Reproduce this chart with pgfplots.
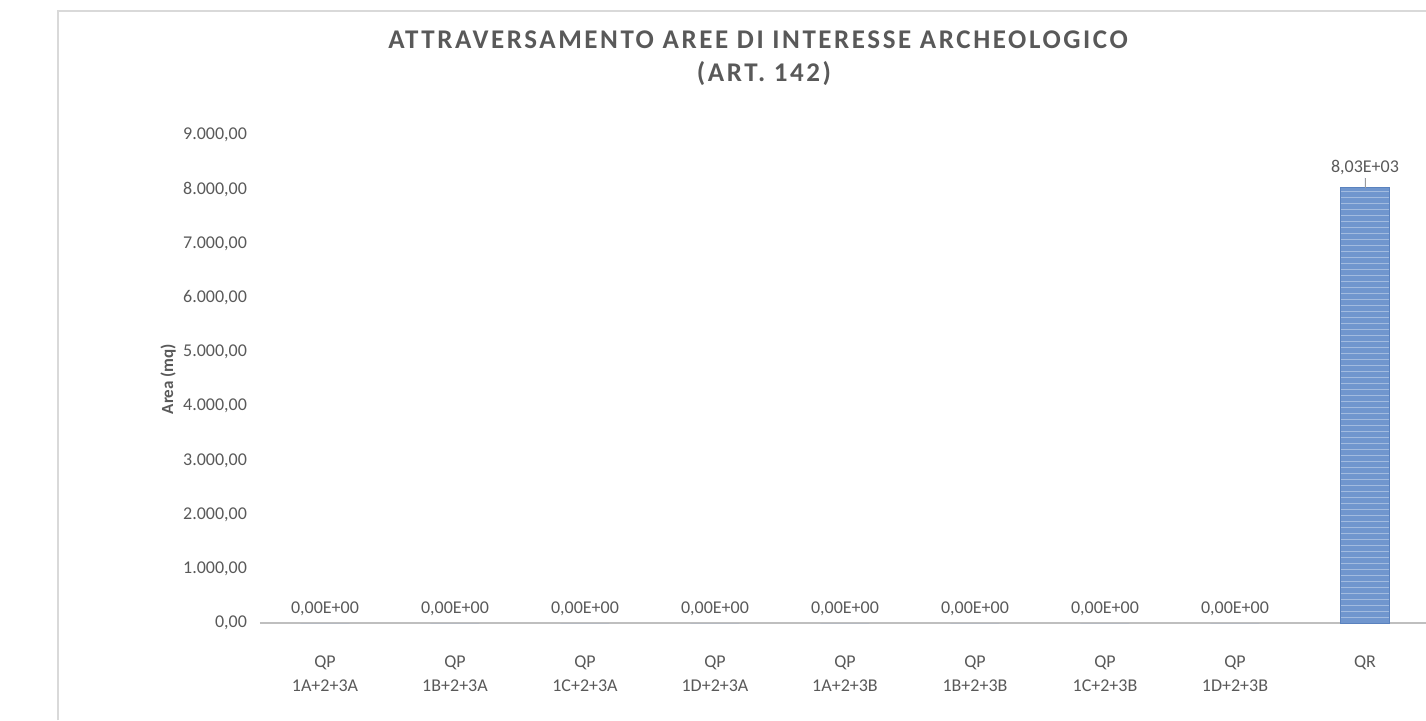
\documentclass[border=0pt]{standalone}
\usepackage{pgfplots}
\pgfplotsset{compat=1.18}
\usepackage{pgfplotstable}
\usepackage{fontspec}
\setmainfont{Carlito}
\newfontfamily\titlefont[LetterSpace=9.5]{Carlito}
\usetikzlibrary{patterns}
\definecolor{txt}{HTML}{595959}
\definecolor{barblue}{HTML}{7096CE}
\definecolor{barline}{HTML}{5A82BE}
\definecolor{axgray}{HTML}{BFBFBF}
\definecolor{framegray}{HTML}{D9D9D9}

\pgfplotstableread{
x y lab
0 0 0,00E+00
1 0 0,00E+00
2 0 0,00E+00
3 0 0,00E+00
4 0 0,00E+00
5 0 0,00E+00
6 0 0,00E+00
7 0 0,00E+00
}\zerotab
\pgfplotstableread{
x y err lab
8 8030 185 8,03E+03
}\qrtab

\begin{document}
\begin{tikzpicture}[x=1pt,y=1pt]
\useasboundingbox (0,0) rectangle (713,360);
\draw[framegray, line width=0.8pt] (29,0) -- (29,354.5) -- (720,354.5);
\node[anchor=base, text=txt, inner sep=0pt] at (379,336)
  {\titlefont\bfseries\fontsize{13.5}{15}\selectfont ATTRAVERSAMENTO AREE DI INTERESSE ARCHEOLOGICO};
\node[anchor=base, text=txt, inner sep=0pt] at (382,319.5)
  {\titlefont\bfseries\fontsize{13.5}{15}\selectfont (ART. 142)};
\begin{axis}[
  scale only axis, width=585pt, height=244pt,
  at={(130pt,48.5pt)}, anchor=south west,
  xmin=-0.5, xmax=8.5, ymin=0, ymax=9000,
  axis x line*=bottom, axis y line*=left,
  x axis line style={axgray, line width=0.75pt, -},
  y axis line style={draw=none},
  xtick={0,...,8}, ytick={0,1000,...,9000},
  xticklabels={{QP\\1A+2+3A},{QP\\1B+2+3A},{QP\\1C+2+3A},{QP\\1D+2+3A},{QP\\1A+2+3B},{QP\\1B+2+3B},{QP\\1C+2+3B},{QP\\1D+2+3B},{QR}},
  major tick length=0pt,
  tick label style={font=\fontsize{9}{12}\selectfont, text=txt},
  xticklabel style={align=center, anchor=north, yshift=-13pt},
  yticklabel style={xshift=-3pt},
  scaled y ticks=false,
  y tick label style={/pgf/number format/.cd, fixed, fixed zerofill, precision=2, use comma, 1000 sep={.}, assume math mode=true},
  ylabel={Area (mq)},
  every axis y label/.style={at={(axis description cs:-0.0786,0.5)}, rotate=90, anchor=center, font=\bfseries\fontsize{8.5}{10}\selectfont, text=txt},
  clip=false,
]
\addplot[ybar, bar width=24.5pt, bar shift=0pt, draw=none, fill=barblue,
  nodes near coords, point meta=explicit symbolic,
  every node near coord/.append style={font=\fontsize{9}{12}\selectfont, text=txt, inner sep=0pt, anchor=base, yshift=4.75pt}]
  table[x=x, y=y, meta=lab] {\zerotab};
\addplot[ybar, bar width=24.5pt, bar shift=0pt, draw=barline, line width=0.4pt, fill=barblue,
  postaction={pattern=horizontal lines, pattern color=white!35!barblue},
  error bars/.cd, y dir=plus, y explicit, error mark=none,
  error bar style={draw=txt!60, line width=0.4pt},
  ]
  table[x=x, y=y, y error=err] {\qrtab};
\addplot[only marks, mark=none, nodes near coords, point meta=explicit symbolic,
  every node near coord/.append style={font=\fontsize{9}{12}\selectfont, text=txt, inner sep=0pt, anchor=base, yshift=7.75pt}]
  table[x=x, y=y, meta=lab] {\qrtab};
\end{axis}
\end{tikzpicture}
\end{document}
